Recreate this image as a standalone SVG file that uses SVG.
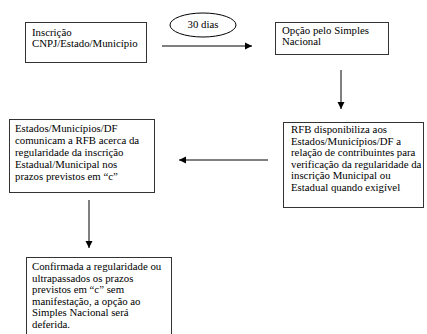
<svg xmlns="http://www.w3.org/2000/svg" width="427" height="334" viewBox="0 0 427 334">
<defs>
<marker id="ah" markerWidth="8" markerHeight="8" refX="7" refY="4" orient="auto" markerUnits="userSpaceOnUse">
<path d="M0,0.5 L7,4 L0,7.5 Z" fill="#000"/>
</marker>
<style>
.box{fill:#fff;stroke:#333;stroke-width:1}
.t{font-family:"Liberation Serif","Times New Roman",serif;font-size:10.8px;fill:#000}
.c{stroke:#000;stroke-width:1;fill:none;marker-end:url(#ah)}
</style>
</defs>
<rect width="427" height="334" fill="#fff"/>
<g id="n1">
<rect class="box" x="25.5" y="22.5" width="121" height="40"/>
<text class="t" x="32" y="36">Inscrição</text>
<text class="t" x="32" y="47">CNPJ/Estado/Município</text>
</g>
<g id="n_label">
<ellipse cx="203" cy="25" rx="33" ry="12" fill="#fff" stroke="#000" stroke-width="1"/>
<text class="t" x="203" y="28" text-anchor="middle">30 dias</text>
</g>
<g id="n2">
<rect class="box" x="275.5" y="22.5" width="113" height="32"/>
<text class="t" x="282" y="34">Opção pelo Simples</text>
<text class="t" x="282" y="45">Nacional</text>
</g>
<g id="n3">
<rect class="box" x="283.5" y="122.5" width="140" height="85"/>
<text class="t" x="291" y="133">RFB disponibiliza aos</text>
<text class="t" x="291" y="144.5">Estados/Municípios/DF a</text>
<text class="t" x="291" y="156">relação de contribuintes para</text>
<text class="t" x="291" y="167.5">verificação da regularidade da</text>
<text class="t" x="291" y="179">inscrição Municipal ou</text>
<text class="t" x="291" y="190.5">Estadual quando exigível</text>
</g>
<g id="n4">
<rect class="box" x="9.5" y="119.5" width="145" height="73"/>
<text class="t" x="15" y="132">Estados/Municípios/DF</text>
<text class="t" x="15" y="144">comunicam a RFB acerca da</text>
<text class="t" x="15" y="156">regularidade da inscrição</text>
<text class="t" x="15" y="168">Estadual/Municipal nos</text>
<text class="t" x="15" y="180">prazos previstos em “c”</text>
</g>
<g id="n5">
<rect class="box" x="26.5" y="257.5" width="145" height="90"/>
<text class="t" x="32" y="270">Confirmada a regularidade ou</text>
<text class="t" x="32" y="281.5">ultrapassados os prazos</text>
<text class="t" x="32" y="293">previstos em “c” sem</text>
<text class="t" x="32" y="304.5">manifestação, a opção ao</text>
<text class="t" x="32" y="316">Simples Nacional será</text>
<text class="t" x="32" y="327.5">deferida.</text>
</g>
<g id="connectors">
<line class="c" x1="162" y1="46" x2="252" y2="46"/>
<line class="c" x1="341" y1="70" x2="341" y2="109"/>
<line class="c" x1="268" y1="160" x2="179" y2="160"/>
<line class="c" x1="89" y1="200" x2="89" y2="248"/>
</g>
</svg>
